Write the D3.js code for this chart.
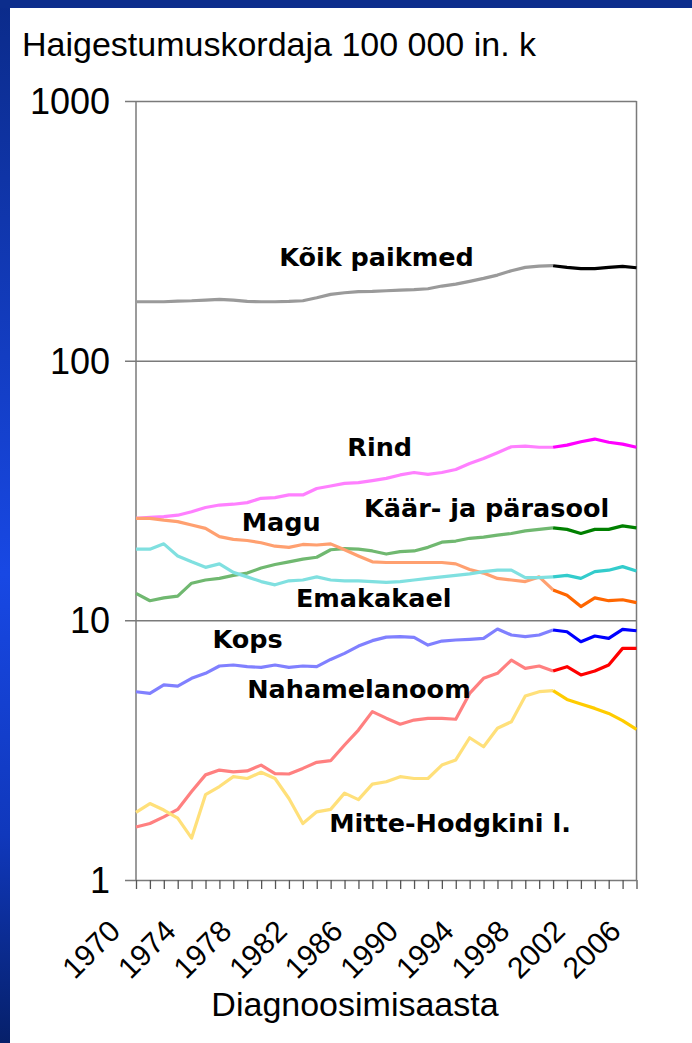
<!doctype html>
<html>
<head>
<meta charset="utf-8"/>
<script src="https://cdn.jsdelivr.net/npm/d3@7"></script>
<style>
    html, body {
        margin: 0;
        padding: 0;
        background: #fff;
    }
    svg {
        display: block;
    }
    .lbl {
        font-family: "DejaVu Sans", Verdana, sans-serif;
        font-weight: bold;
        font-size: 25.5px;
        fill: #000;
    }
    .txt {
        font-family: "Liberation Sans", Arial, sans-serif;
        fill: #000;
    }
</style>
</head>
<body>
<svg id="chart" width="692" height="1043"></svg>
<script>
// categories (diagnosis years)
var years = [1970, 1971, 1972, 1973, 1974, 1975, 1976, 1977, 1978, 1979,
             1980, 1981, 1982, 1983, 1984, 1985, 1986, 1987, 1988, 1989,
             1990, 1991, 1992, 1993, 1994, 1995, 1996, 1997, 1998, 1999,
             2000, 2001, 2002, 2003, 2004, 2005, 2006];
var tickLabels = [1970, 1974, 1978, 1982, 1986, 1990, 1994, 1998, 2002, 2006];
var yTicks = [1, 10, 100, 1000];
var splitYear = 2000; // pale line before, strong colour after

// incidence per 100 000
var koik = [168.6, 168.6, 168.6, 169.6, 170.1, 171.1, 172.2, 171.1, 169.1, 168.6,
            168.6, 169.1, 170.1, 174.7, 180.0, 182.6, 184.3, 184.8, 185.9, 187.0,
            187.6, 189.2, 193.8, 197.2, 202.0, 207.4, 213.6, 222.0, 228.6, 231.4,
            232.1, 228.6, 226.0, 226.0, 228.6, 230.7, 228.0];
var rind = [24.7, 24.9, 25.1, 25.4, 26.2, 27.2, 27.8, 28.0, 28.4, 29.5,
            29.7, 30.4, 30.4, 32.2, 32.9, 33.7, 33.9, 34.5, 35.2, 36.3,
            37.1, 36.5, 37.1, 38.1, 40.2, 42.0, 44.2, 46.6, 46.9, 46.4,
            46.4, 47.3, 48.7, 49.9, 48.5, 47.7, 46.4];
var kaarsool = [12.7, 11.9, 12.2, 12.4, 13.9, 14.3, 14.5, 14.9, 15.2, 15.9,
                16.4, 16.8, 17.2, 17.5, 18.7, 18.9, 18.8, 18.5, 18.0, 18.4,
                18.5, 19.1, 20.0, 20.2, 20.7, 20.9, 21.3, 21.6, 22.1, 22.4,
                22.7, 22.4, 21.6, 22.4, 22.4, 23.1, 22.7];
var magu = [24.7, 24.7, 24.3, 24.0, 23.3, 22.6, 21.0, 20.5, 20.3, 19.9,
            19.3, 19.1, 19.6, 19.5, 19.7, 18.7, 17.7, 16.8, 16.7, 16.7,
            16.7, 16.7, 16.7, 16.5, 15.7, 15.2, 14.5, 14.3, 14.1, 14.7,
            13.1, 12.5, 11.3, 12.2, 11.9, 12.0, 11.7];
var emakakael = [18.8, 18.8, 19.7, 17.7, 16.8, 16.0, 16.5, 15.3, 14.7, 14.1,
                 13.7, 14.2, 14.3, 14.7, 14.3, 14.2, 14.2, 14.1, 14.0, 14.1,
                 14.3, 14.5, 14.7, 14.9, 15.1, 15.4, 15.6, 15.6, 14.6, 14.6,
                 14.7, 14.9, 14.5, 15.4, 15.6, 16.1, 15.5];
var kops = [5.31, 5.23, 5.64, 5.58, 5.98, 6.25, 6.67, 6.73, 6.63, 6.59,
            6.73, 6.59, 6.67, 6.63, 7.07, 7.46, 7.96, 8.35, 8.62, 8.65,
            8.60, 8.03, 8.32, 8.40, 8.45, 8.52, 9.26, 8.78, 8.65, 8.78,
            9.18, 9.04, 8.27, 8.70, 8.52, 9.23, 9.12];
var melanoom = [1.60, 1.65, 1.75, 1.87, 2.19, 2.54, 2.65, 2.61, 2.63, 2.77,
                2.57, 2.56, 2.69, 2.84, 2.88, 3.31, 3.78, 4.45, 4.20, 3.98,
                4.13, 4.19, 4.19, 4.16, 5.23, 5.98, 6.25, 7.03, 6.53, 6.67,
                6.38, 6.63, 6.16, 6.38, 6.73, 7.80, 7.80];
var hodgkin = [1.82, 1.97, 1.86, 1.73, 1.45, 2.13, 2.29, 2.50, 2.46, 2.60,
               2.46, 2.06, 1.65, 1.83, 1.87, 2.16, 2.04, 2.34, 2.39, 2.50,
               2.46, 2.46, 2.77, 2.90, 3.53, 3.26, 3.84, 4.07, 5.11, 5.31,
               5.36, 4.96, 4.76, 4.58, 4.38, 4.11, 3.80];

// series names, label anchors (year, value) and colours
var seriesNames = ["Kõik paikmed", "Rind", "Käär- ja pärasool", "Magu", "Emakakael", "Kops", "Nahamelanoom", "Mitte-Hodgkini l."];
var seriesValues = [koik, rind, kaarsool, magu, emakakael, kops, melanoom, hodgkin];
var labelYears = [1980.3, 1985.2, 1986.4, 1977.6, 1981.5, 1975.5, 1978.0, 1983.9];
var labelValues = [231, 42.9, 25.0, 22.1, 11.25, 7.82, 5.02, 1.53];
var paleColors = ["#9a9a9a", "#ff80ff", "#70b870", "#ffa070", "#80e0e0", "#8080ff", "#ff8080", "#ffe07a"];
var darkColors = ["#000000", "#ff00ff", "#008000", "#ff6600", "#33cccc", "#0000ff", "#ff0000", "#ffcc00"];

var svg = d3.select("#chart");
var W = 692, H = 1043;

// slide background: blue frame at left and top
var defs = svg.append("defs");
var grad = defs.append("linearGradient").attr("id", "frame")
    .attr("x1", 0).attr("y1", 0).attr("x2", 0).attr("y2", 1);
grad.append("stop").attr("offset", "0").attr("stop-color", "#0b2b8a");
grad.append("stop").attr("offset", "0.55").attr("stop-color", "#1848e4");
grad.append("stop").attr("offset", "0.8").attr("stop-color", "#1038bc");
grad.append("stop").attr("offset", "1").attr("stop-color", "#06206a");
svg.append("rect").attr("width", W).attr("height", H).attr("fill", "url(#frame)");
svg.append("rect").attr("width", W).attr("height", 8).attr("fill", "#0c2d8c");
svg.append("rect").attr("x", 10).attr("y", 8).attr("width", W - 10).attr("height", H - 8).attr("fill", "#fff");

var x = d3.scaleLinear().domain([years[0], years[years.length - 1]]).range([136, 636.5]);
var y = d3.scaleLog().domain([1, 1000]).range([880, 101]);

// gridlines at each decade, extending left as ticks
svg.append("g")
    .attr("transform", "translate(125,0)")
    .call(d3.axisLeft(y).tickValues(yTicks).tickSize(-(x.range()[1] - 125)).tickFormat(""))
    .call(function(g) {
        g.select(".domain").remove();
        g.selectAll("line").attr("stroke", "#7a7a7a").attr("stroke-width", 1.5);
    });

// plot frame (left and right sides)
svg.append("line").attr("x1", x.range()[0]).attr("x2", x.range()[0])
    .attr("y1", y(1000)).attr("y2", y(1)).attr("stroke", "#7a7a7a").attr("stroke-width", 1.5);
svg.append("line").attr("x1", x.range()[1]).attr("x2", x.range()[1])
    .attr("y1", y(1000)).attr("y2", y(1)).attr("stroke", "#7a7a7a").attr("stroke-width", 1.5);

// bottom year ticks
svg.append("g")
    .attr("transform", "translate(0," + y(1) + ")")
    .call(d3.axisBottom(x).tickValues(years).tickSize(9).tickFormat(""))
    .call(function(g) {
        g.select(".domain").remove();
        g.selectAll("line").attr("stroke", "#555").attr("stroke-width", 1.3);
    });

// y labels
svg.append("g").selectAll("text")
    .data(yTicks).enter()
    .append("text")
    .attr("class", "txt")
    .attr("x", 110)
    .attr("y", function(d) { return y(d); })
    .attr("dy", "0.36em")
    .attr("text-anchor", "end")
    .style("font-size", "36px")
    .text(function(d) { return d; });

// x labels, rotated
svg.append("g").selectAll("text")
    .data(tickLabels).enter()
    .append("text")
    .attr("class", "txt")
    .attr("text-anchor", "end")
    .style("font-size", "30px")
    .attr("transform", function(d) { return "translate(" + (x(d) - 14) + ",933) rotate(-45)"; })
    .text(function(d) { return d; });

// titles
svg.append("text").attr("class", "txt")
    .attr("x", 22).attr("y", 56)
    .style("font-size", "34px")
    .text("Haigestumuskordaja 100 000 in. k");
svg.append("text").attr("class", "txt")
    .attr("x", 355).attr("y", 1016)
    .attr("text-anchor", "middle")
    .style("font-size", "34px")
    .text("Diagnoosimisaasta");

// lines
var line = d3.line()
    .x(function(d) { return x(d.year); })
    .y(function(d) { return y(d.value); });

seriesValues.forEach(function(vals, i) {
    var pts = years.map(function(yr, j) { return {year: yr, value: vals[j]}; });
    var early = pts.filter(function(p) { return p.year <= splitYear; });
    var late = pts.filter(function(p) { return p.year >= splitYear; });
    svg.append("path").datum(early)
        .attr("d", line)
        .attr("fill", "none")
        .attr("stroke", paleColors[i])
        .attr("stroke-width", 3.2)
        .attr("stroke-linejoin", "round");
    svg.append("path").datum(late)
        .attr("d", line)
        .attr("fill", "none")
        .attr("stroke", darkColors[i])
        .attr("stroke-width", 3.2)
        .attr("stroke-linejoin", "round");
});

// series labels
svg.append("g").selectAll("text")
    .data(seriesNames).enter()
    .append("text")
    .attr("class", "lbl")
    .attr("x", function(d, i) { return x(labelYears[i]); })
    .attr("y", function(d, i) { return y(labelValues[i]); })
    .text(function(d) { return d; });
</script>
</body>
</html>
